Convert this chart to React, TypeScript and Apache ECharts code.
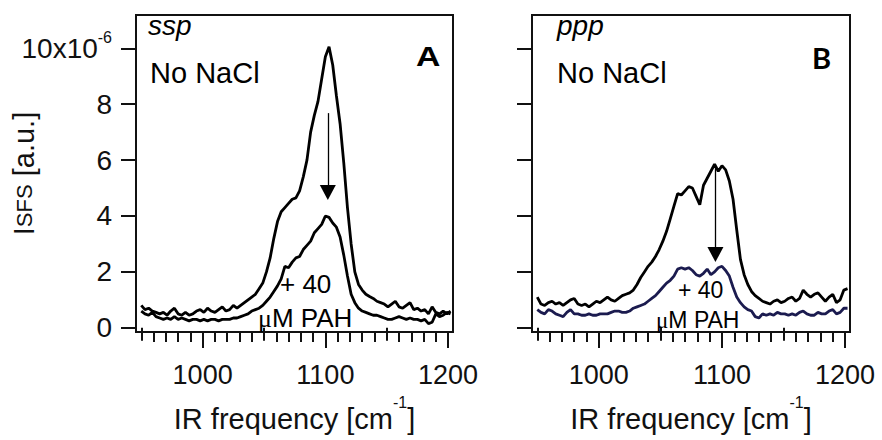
import React, { useEffect, useRef } from "react";
import * as echarts from "echarts";

// IR frequency grid (cm^-1)
const freqs = [
  950, 953, 956, 959, 962, 965, 968, 971, 974, 977, 980, 983, 986, 989, 992, 995, 998,
  1001, 1004, 1007, 1010, 1013, 1016, 1019, 1022, 1025, 1028, 1031, 1034, 1037, 1040,
  1043, 1046, 1049, 1052, 1055, 1058, 1061, 1064, 1067, 1070, 1073, 1076, 1079, 1082,
  1085, 1088, 1091, 1094, 1097, 1100, 1103, 1106, 1109, 1112, 1115, 1118, 1121, 1124,
  1127, 1130, 1133, 1136, 1139, 1142, 1145, 1148, 1151, 1154, 1157, 1160, 1163, 1166,
  1169, 1172, 1175, 1178, 1181, 1184, 1187, 1190, 1193, 1196, 1199, 1202,
];

// Panel A (ssp), I_SFS in units of 1e-6
const sspNoNaCl = [
  0.8, 0.65, 0.7, 0.6, 0.55, 0.5, 0.55, 0.45, 0.6, 0.7, 0.5, 0.45, 0.55, 0.45, 0.5, 0.6, 0.65,
  0.55, 0.7, 0.6, 0.55, 0.65, 0.75, 0.6, 0.65, 0.8, 0.7, 0.8, 0.9, 1.0, 1.1,
  1.2, 1.4, 1.6, 2.0, 2.5, 3.2, 3.8, 4.15, 4.3, 4.45, 4.6, 4.65, 4.9, 5.4,
  6.0, 7.0, 7.6, 8.1, 8.9, 9.7, 10.05, 9.4, 8.3, 7.3, 5.9, 4.3, 3.0, 2.0,
  1.55, 1.35, 1.2, 1.12, 1.05, 0.95, 0.9, 0.85, 0.75, 0.85, 0.95, 0.75, 0.7, 0.8,
  0.9, 0.65, 0.7, 0.6, 0.65, 0.5, 0.75, 0.55, 0.5, 0.6, 0.5, 0.6,
];
const sspPAH = [
  0.6, 0.5, 0.45, 0.55, 0.4, 0.35, 0.3, 0.35, 0.3, 0.4, 0.3, 0.35, 0.3, 0.25, 0.3, 0.3, 0.25,
  0.3, 0.25, 0.3, 0.3, 0.25, 0.3, 0.3, 0.3, 0.35, 0.35, 0.4, 0.45, 0.5, 0.6,
  0.65, 0.7, 0.8, 0.95, 1.1, 1.3, 1.5, 1.75, 2.2, 2.15, 2.35, 2.5, 2.55, 2.8,
  2.95, 3.1, 3.4, 3.55, 3.7, 4.0, 3.95, 3.75, 3.6, 3.25, 2.6, 1.85, 1.2, 0.9,
  0.7, 0.6, 0.55, 0.5, 0.45, 0.45, 0.4, 0.35, 0.3, 0.3, 0.35, 0.4, 0.35, 0.3,
  0.35, 0.3, 0.3, 0.25, 0.3, 0.15, 0.2, 0.5, 0.4, 0.45, 0.55, 0.5,
];

// Panel B (ppp)
const pppNoNaCl = [
  1.1, 0.85, 0.8, 0.9, 0.95, 0.85, 0.9, 0.8, 0.9, 1.0, 1.05, 0.85, 0.8, 0.85, 0.75, 0.85, 0.95,
  0.9, 1.0, 1.1, 1.0, 0.95, 1.05, 1.15, 1.2, 1.25, 1.35, 1.55, 1.8, 2.0, 2.2,
  2.35, 2.55, 2.8, 3.1, 3.45, 3.9, 4.35, 4.8, 4.75, 4.9, 5.05, 5.0, 4.7, 4.4,
  5.1, 5.35, 5.6, 5.85, 5.6, 5.8, 5.65, 5.25, 4.6, 3.5, 2.45, 1.9, 1.55, 1.3,
  1.15, 1.05, 0.95, 0.9, 0.85, 0.95, 1.0, 0.9, 0.95, 1.05, 1.1, 0.95, 1.05, 1.35,
  1.2, 1.1, 1.2, 1.25, 1.1, 0.95, 1.1, 1.2, 0.9, 1.0, 1.35, 1.4,
];
const pppPAH = [
  0.65, 0.55, 0.5, 0.65, 0.6, 0.5, 0.45, 0.4, 0.55, 0.65, 0.5, 0.5, 0.45, 0.45, 0.5, 0.45, 0.45,
  0.5, 0.5, 0.5, 0.55, 0.6, 0.6, 0.55, 0.55, 0.6, 0.7, 0.75, 0.8, 0.85, 0.95,
  1.05, 1.15, 1.3, 1.45, 1.6, 1.7, 1.85, 2.1, 2.15, 2.1, 2.15, 2.05, 1.9, 1.85,
  1.95, 2.1, 1.9, 2.0, 2.15, 2.2, 2.05, 1.85, 1.45, 1.1, 0.9, 0.75, 0.65, 0.6,
  0.4, 0.35, 0.5, 0.45, 0.5, 0.45, 0.55, 0.5, 0.5, 0.45, 0.5, 0.45, 0.55, 0.6,
  0.5, 0.45, 0.45, 0.55, 0.5, 0.5, 0.6, 0.65, 0.5, 0.55, 0.7, 0.7,
];

const yTicks = [0, 2, 4, 6, 8, 10];
const xMajorTicks = [1000, 1100, 1200];
const xMidTicks = [950, 1050, 1150];
const xMinorTicks = [
  960, 970, 980, 990, 1010, 1020, 1030, 1040, 1060, 1070, 1080, 1090,
  1110, 1120, 1130, 1140, 1160, 1170, 1180, 1190,
];

// arrows: [x, yStart, yEnd]
const arrowA = [1102, 7.68, 4.84];
const arrowB = [1094.7, 5.76, 2.62];

const X_MIN = 945.7;
const X_MAX = 1204;
const Y_MIN = -0.15;
const Y_MAX = 11.19;

const INK = "#111";
const FONT = "Liberation Sans, Arial, sans-serif";

function xAxesFor(gridIndex: number) {
  const base = {
    type: "value" as const,
    gridIndex,
    position: "bottom" as const,
    min: X_MIN,
    max: X_MAX,
    splitLine: { show: false },
  };
  return [
    {
      ...base,
      axisLine: { show: true, onZero: false, lineStyle: { color: INK, width: 2 } },
      axisTick: { show: true, customValues: xMajorTicks, length: 16, lineStyle: { color: INK, width: 2 } },
      axisLabel: {
        show: true,
        customValues: xMajorTicks,
        formatter: (v: number) => String(v),
        margin: 29,
        fontSize: 27,
        fontFamily: FONT,
        color: INK,
      },
      name: "{a|IR frequency [cm}{s|-1}{a|]}",
      nameLocation: "middle" as const,
      nameGap: 70,
      nameMoveOverlap: false,
      nameTextStyle: {
        color: INK,
        rich: {
          a: { fontSize: 29, fontFamily: FONT, color: INK, lineHeight: 34 },
          s: { fontSize: 16, fontFamily: FONT, color: INK, lineHeight: 16, padding: [0, 0, 34, 0] },
        },
      },
    },
    {
      ...base,
      axisLine: { show: false },
      axisTick: { show: true, customValues: xMidTicks, length: 13, lineStyle: { color: INK, width: 2 } },
      axisLabel: { show: false },
    },
    {
      ...base,
      axisLine: { show: false },
      axisTick: { show: true, customValues: xMinorTicks, length: 10, lineStyle: { color: INK, width: 2 } },
      axisLabel: { show: false },
    },
  ];
}

function yAxisFor(gridIndex: number, withLabels: boolean) {
  return {
    type: "value" as const,
    gridIndex,
    position: "left" as const,
    min: Y_MIN,
    max: Y_MAX,
    splitLine: { show: false },
    axisLine: { show: true, onZero: false, lineStyle: { color: INK, width: 2 } },
    axisTick: { show: true, customValues: yTicks, length: 15, lineStyle: { color: INK, width: 2 } },
    axisLabel: {
      show: withLabels,
      customValues: yTicks,
      margin: 24,
      formatter: (v: number) => (v === 10 ? "{a|10x10}{s|-6}" : "{a|" + v + "}"),
      rich: {
        a: { fontSize: 28, fontFamily: FONT, color: INK, lineHeight: 30 },
        s: { fontSize: 16, fontFamily: FONT, color: INK, lineHeight: 16, padding: [0, 0, 22, 0] },
      },
    },
    name: withLabels ? "{i|I}{b|SFS}{c| [a.u.]}" : "",
    nameLocation: "middle" as const,
    nameGap: 95,
    nameMoveOverlap: false,
    nameTextStyle: {
      color: INK,
      rich: {
        i: { fontSize: 29, fontFamily: FONT, color: INK, lineHeight: 34 },
        b: { fontSize: 22, fontFamily: FONT, color: INK, lineHeight: 34 },
        c: { fontSize: 29, fontFamily: FONT, color: INK, lineHeight: 34 },
      },
    },
  };
}

function arrowMarkLine(a: number[]) {
  return {
    silent: true,
    symbol: ["none", "triangle"],
    symbolSize: [16, 15],
    lineStyle: { color: "#000", width: 1.3, type: "solid" as const },
    label: { show: false },
    emphasis: { disabled: true },
    data: [[{ coord: [a[0], a[1]] }, { coord: [a[0], a[2]] }]],
  };
}

function lineSeries(
  name: string,
  values: number[],
  xAxisIndex: number,
  yAxisIndex: number,
  color: string,
  arrow?: number[]
) {
  return {
    name,
    type: "line" as const,
    xAxisIndex,
    yAxisIndex,
    data: freqs.map((f, i) => [f, values[i]]),
    showSymbol: false,
    symbol: "none",
    smooth: false,
    clip: false,
    lineStyle: { color, width: 2.8 },
    itemStyle: { color },
    z: 3,
    ...(arrow ? { markLine: arrowMarkLine(arrow) } : {}),
  };
}

function txt(x: number, y: number, text: string, fontSize: number, extra: any = {}, rich?: any) {
  return {
    type: "text",
    x,
    y,
    z: 10,
    ...(extra.scaleX ? { scaleX: extra.scaleX } : {}),
    style: {
      text,
      fontSize,
      fontFamily: extra.fontFamily || FONT,
      fontStyle: extra.fontStyle || "normal",
      fontWeight: extra.fontWeight || "normal",
      fill: "#000",
      verticalAlign: "middle",
      align: "left",
      ...(rich ? { rich } : {}),
    },
  };
}

const muRich = (size: number) => ({
  m: { fontSize: size, fontFamily: "Liberation Serif, serif", fill: "#000" },
  t: { fontSize: size, fontFamily: FONT, fill: "#000" },
});

export default function App() {
  const ref = useRef<HTMLDivElement>(null);

  useEffect(() => {
    if (!ref.current) return;
    const chart = echarts.init(ref.current, undefined, { renderer: "svg" });
    const gridCommon = {
      show: true,
      borderColor: INK,
      borderWidth: 2,
      backgroundColor: "transparent",
      containLabel: false,
      outerBoundsMode: "none",
    };
    chart.setOption({
      animation: false,
      backgroundColor: "#fff",
      textStyle: { fontFamily: FONT },
      grid: [
        { ...gridCommon, left: 136, top: 15, width: 317, height: 317 },
        { ...gridCommon, left: 532, top: 15, width: 318, height: 317 },
      ],
      xAxis: [...xAxesFor(0), ...xAxesFor(1)],
      yAxis: [yAxisFor(0, true), yAxisFor(1, false)],
      series: [
        lineSeries("ssp No NaCl", sspNoNaCl, 0, 0, "#000", arrowA),
        lineSeries("ssp + 40 μM PAH", sspPAH, 0, 0, "#000"),
        lineSeries("ppp No NaCl", pppNoNaCl, 3, 1, "#000", arrowB),
        lineSeries("ppp + 40 μM PAH", pppPAH, 3, 1, "#1b1b4f"),
      ],
      graphic: [
        txt(148, 25, "ssp", 28, { fontStyle: "italic" }),
        txt(150, 73, "No NaCl", 29),
        txt(416, 56, "A", 27, { fontWeight: "bold", scaleX: 1.25 }),
        txt(280, 284, "+ 40", 26),
        txt(258, 318, "{m|μ}{t|M PAH}", 26, {}, muRich(26)),
        txt(557, 25, "ppp", 28, { fontStyle: "italic" }),
        txt(557, 73, "No NaCl", 29),
        txt(812, 57, "B", 29, { fontWeight: "bold", fontFamily: "Lato, sans-serif" }),
        txt(678, 290, "+ 40", 23),
        txt(656, 320, "{m|μ}{t|M PAH}", 23, {}, muRich(23)),
      ],
    });
    return () => chart.dispose();
  }, []);

  return (
    <div
      ref={ref}
      style={{ position: "fixed", left: 0, top: 0, width: 882, height: 440, background: "#fff" }}
    />
  );
}
